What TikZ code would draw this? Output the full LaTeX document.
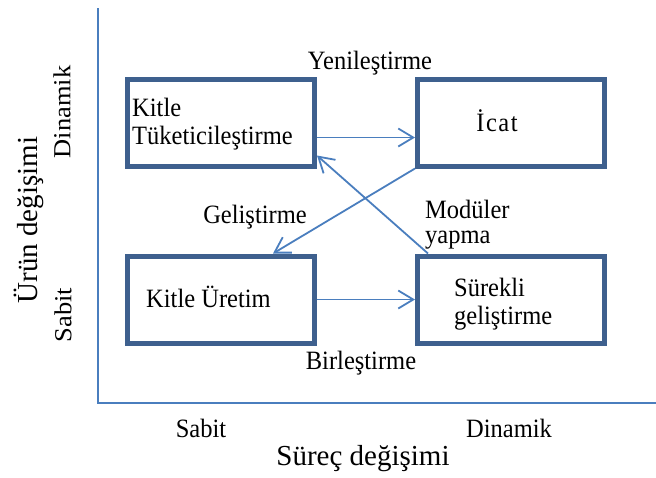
\documentclass[tikz,border=0pt]{standalone}
\usepackage{fontspec}
\setmainfont{Liberation Serif}
\usetikzlibrary{arrows.meta}
\definecolor{boxblue}{RGB}{62,96,142}
\definecolor{linkblue}{RGB}{74,126,190}
\begin{document}
\begin{tikzpicture}[x=1pt,y=-1pt,
  quad/.style={draw=boxblue,line width=5pt,minimum width=187pt,minimum height=87pt,inner sep=0pt},
  txt/.style={font=\fontsize{24.5}{26}\selectfont,inner sep=0pt,yscale=1.08},
  rtxt/.style={font=\fontsize{24.5}{26}\selectfont,inner sep=0pt,rotate=90,xscale=1.08},
  axtxt/.style={font=\fontsize{29}{31}\selectfont,inner sep=0pt},
  link/.style={draw=linkblue,line width=1.8pt,-{Straight Barb[length=15pt,width=18pt,line width=1.8pt]}},
  axis/.style={draw=linkblue,line width=1.5pt}]
\useasboundingbox (0,0) rectangle (656,477);
% axes
\coordinate (ytop) at (98,8);
\coordinate (orig) at (98,403);
\coordinate (xend) at (656,403);
\draw[axis] (ytop) -- (orig) -- (xend);
% quadrant boxes
\node[quad] (TL) at (221,122.5) {};
\node[quad] (TR) at (511,122.5) {};
\node[quad] (BL) at (221,299.5) {};
\node[quad] (BR) at (511,299.5) {};
% box texts
\node[txt,anchor=west] (tl1) at (132,107) {Kitle};
\node[txt,anchor=west] (tl2) at (132,138) {Tüketicileştirme};
\node[txt] (tr1) at (497,121) {İ\kern1.5pt c\kern1.5pt a\kern1.5pt t};
\node[txt,anchor=west] (bl1) at (146,297) {Kitle Üretim};
\node[txt,anchor=west] (br1) at (454,287) {Sürekli};
\node[txt,anchor=west] (br2) at (454,318) {geliştirme};
% connectors
\draw[link] ([yshift=-15pt]TL.east) -- ([yshift=-15pt]TR.west);
\draw[link] (BL.east) -- (BR.west);
\draw[link] (TR.south west) -- ([xshift=52pt]BL.north);
\draw[link] ([xshift=13pt]BR.north west) -- ([yshift=13pt]TL.south east);
% connector labels
\node[txt] (lYen) at (370,63) {Yenileştirme};
\node[txt] (lGel) at (255,217) {Geliştirme};
\node[txt,anchor=west] (lMod) at (425,209) {Modüler};
\node[txt,anchor=west] (lYap) at (425,240) {yapma};
\node[txt] (lBir) at (361,363) {Birleştirme};
% axis labels
\node[txt] (xs) at (201,428) {Sabit};
\node[txt] (xd) at (509,428) {Dinamik};
\node[axtxt] (xl) at (363,459) {Süreç değişimi};
\node[axtxt,rotate=90] (yl) at (29,220) {Ürün değişimi};
\node[rtxt] (yd) at (62,112) {Dinamik};
\node[rtxt] (ys) at (63,315) {Sabit};
\end{tikzpicture}
\end{document}
